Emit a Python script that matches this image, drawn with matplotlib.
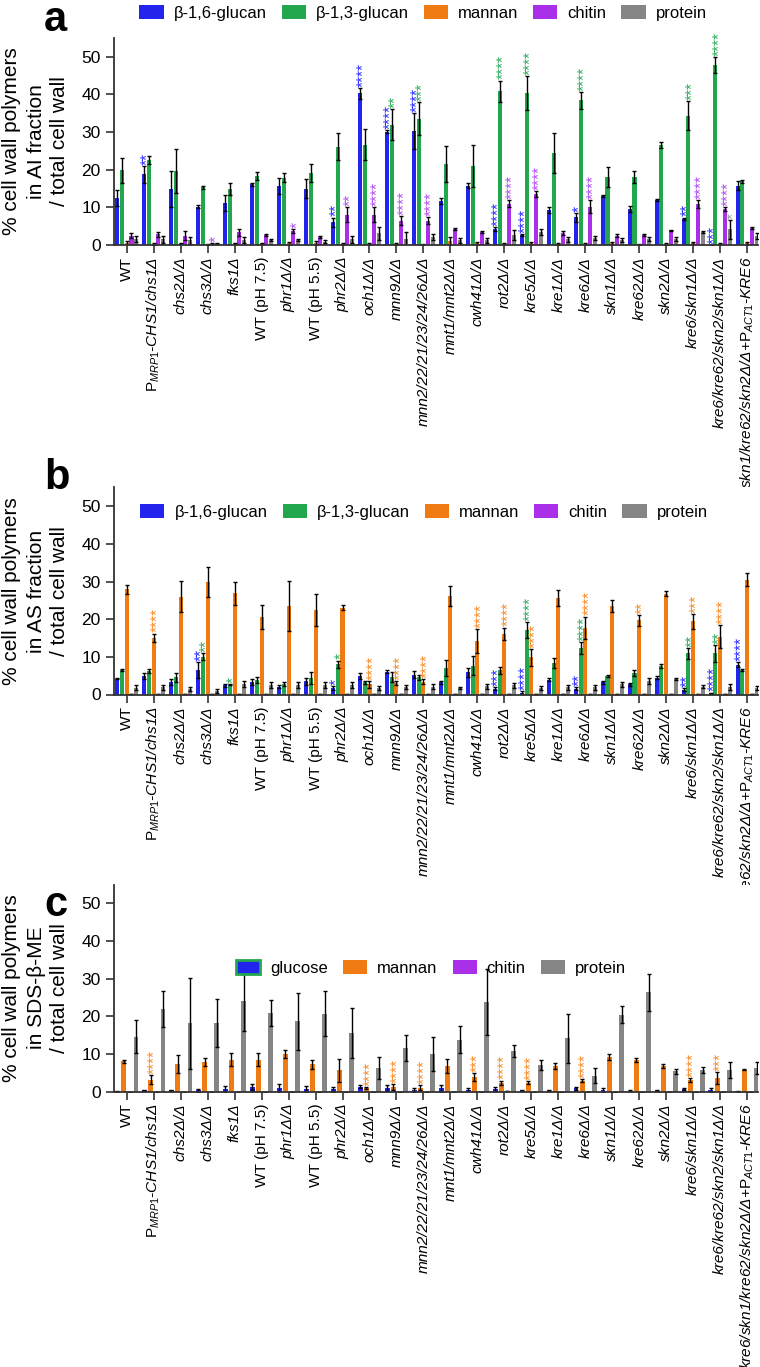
import numpy as np
import matplotlib
matplotlib.use("Agg")
import matplotlib.pyplot as plt
from matplotlib.patches import Patch

plt.rcParams['font.family'] = ['Liberation Sans', 'DejaVu Sans']
plt.rcParams['mathtext.fontset'] = 'custom'
plt.rcParams['mathtext.rm'] = 'Liberation Sans'
plt.rcParams['mathtext.it'] = 'Liberation Sans:italic'
plt.rcParams['mathtext.bf'] = 'Liberation Sans:bold'

labels = ['WT', r'$\mathrm{P}_{MRP1}$-CHS1/chs1Δ', 'chs2Δ/Δ', 'chs3Δ/Δ', 'fks1Δ',
          'WT (pH 7.5)', 'phr1Δ/Δ', 'WT (pH 5.5)', 'phr2Δ/Δ', 'och1Δ/Δ', 'mnn9Δ/Δ',
          'mnn2/22/21/23/24/26Δ/Δ', 'mnt1/mnt2Δ/Δ', 'cwh41Δ/Δ', 'rot2Δ/Δ', 'kre5Δ/Δ',
          'kre1Δ/Δ', 'kre6Δ/Δ', 'skn1Δ/Δ', 'kre62Δ/Δ', 'skn2Δ/Δ', 'kre6/skn1Δ/Δ',
          'kre6/kre62/skn2/skn1Δ/Δ', r'kre6/skn1/kre62/skn2Δ/Δ+$\mathrm{P}_{ACT1}$-KRE6']
upright = ['WT', 'WT (pH 7.5)', 'WT (pH 5.5)']

series_ab = ['β-1,6-glucan', 'β-1,3-glucan', 'mannan', 'chitin', 'protein']
series_c = ['glucose', 'mannan', 'chitin', 'protein']

# panel a: AI fraction
a_b16 = [12.5, 18.8, 14.9, 10.2, 11.2, 16.2, 15.7, 15.0, 6.0, 40.3, 30.1, 30.3, 11.7, 15.8, 4.3, 2.7, 9.3, 7.4, 13.0, 9.6, 11.9, 7.0, 0.0, 15.8]
a_b16_sd = [2.2, 2.2, 4.7, 0.4, 2.1, 0.4, 2.2, 2.5, 1.3, 1.5, 0.4, 4.7, 0.7, 0.6, 0.5, 0.3, 0.7, 1.2, 0.3, 0.8, 0.2, 0.3, 0.0, 1.2]
a_b13 = [19.8, 22.6, 19.7, 15.3, 14.9, 18.4, 17.9, 19.1, 26.1, 26.7, 32.0, 33.5, 21.5, 21.0, 40.9, 40.3, 24.4, 38.4, 18.1, 18.1, 26.5, 34.4, 47.8, 17.0]
a_b13_sd = [3.3, 1.0, 5.8, 0.3, 1.7, 1.0, 1.2, 2.3, 3.6, 4.2, 4.2, 4.4, 4.7, 5.7, 2.8, 4.5, 5.3, 2.2, 2.6, 1.6, 0.8, 3.9, 2.1, 0.4]
a_man = [0.4, 0.3, 0.4, 0.1, 0.4, 0.4, 0.4, 0.5, 0.3, 0.3, 0.3, 0.2, 1.0, 0.4, 0.3, 0.4, 0.3, 0.3, 0.4, 0.2, 0.3, 0.5, 0.3, 0.4]
a_man_sd = [0.6, 0.2, 0.2, 0.1, 0.2, 0.2, 0.3, 0.5, 0.2, 0.2, 0.2, 0.1, 1.0, 0.3, 0.3, 0.4, 0.2, 0.2, 0.4, 0.1, 0.2, 0.3, 0.2, 0.4]
a_chi = [2.5, 2.8, 2.4, 0.3, 3.4, 2.6, 3.7, 2.1, 8.0, 8.0, 6.5, 6.5, 4.3, 3.4, 11.0, 13.5, 3.2, 10.2, 2.5, 2.6, 3.9, 10.9, 9.5, 4.5]
a_chi_sd = [0.7, 0.7, 1.2, 0.1, 0.9, 0.3, 0.6, 0.3, 2.0, 2.0, 1.2, 1.0, 0.2, 0.3, 0.9, 0.8, 0.6, 1.7, 0.3, 0.3, 0.1, 1.1, 0.5, 0.3]
a_pro = [1.6, 1.5, 1.2, 0.4, 1.3, 1.3, 1.4, 0.9, 1.5, 3.1, 1.6, 2.0, 1.2, 1.2, 2.7, 3.5, 1.5, 1.9, 1.3, 1.6, 1.5, 3.5, 4.2, 2.4]
a_pro_sd = [0.8, 1.0, 0.9, 0.2, 0.8, 0.3, 0.3, 0.4, 1.0, 1.8, 1.8, 0.8, 0.7, 0.7, 1.3, 0.8, 0.7, 0.6, 0.6, 0.5, 0.5, 0.3, 2.5, 0.9]
# (category, series, stars)
a_stars = [(1, 0, '**'), (3, 3, '*'), (6, 3, '*'), (8, 0, '**'), (8, 3, '**'),
           (9, 0, '****'), (9, 3, '****'), (10, 0, '****'), (10, 1, '**'), (10, 3, '****'),
           (11, 0, '****'), (11, 1, '***'), (11, 3, '****'), (14, 0, '****'), (14, 1, '****'),
           (14, 3, '****'), (15, 0, '****'), (15, 1, '****'), (15, 3, '****'), (17, 0, '*'),
           (17, 1, '****'), (17, 3, '****'), (21, 0, '**'), (21, 1, '***'), (21, 3, '****'),
           (22, 0, '***'), (22, 1, '****'), (22, 3, '****'), (22, 4, '*')]

# panel b: AS fraction
b_b16 = [4.2, 4.9, 3.2, 6.5, 2.4, 3.3, 2.1, 3.5, 1.8, 4.8, 6.0, 5.3, 3.3, 5.9, 1.5, 0.5, 3.9, 1.5, 3.2, 2.7, 4.5, 1.2, 0.3, 7.9]
b_b16_sd = [0.2, 0.7, 0.8, 2.2, 0.3, 0.7, 0.4, 1.0, 0.5, 0.8, 0.4, 1.0, 0.4, 1.2, 0.4, 0.3, 0.4, 0.4, 0.3, 0.4, 0.3, 0.4, 0.2, 0.7]
b_b13 = [6.5, 6.2, 4.6, 10.0, 2.6, 3.9, 2.8, 4.4, 8.0, 3.3, 4.6, 4.6, 7.0, 7.6, 6.4, 17.1, 8.3, 12.4, 4.9, 5.8, 7.6, 10.9, 10.9, 6.6]
b_b13_sd = [0.3, 0.6, 1.2, 0.9, 0.2, 0.8, 0.5, 1.5, 1.0, 0.4, 1.3, 0.7, 2.1, 2.5, 1.0, 2.2, 1.3, 1.6, 0.3, 0.8, 0.5, 1.4, 2.3, 0.3]
b_man = [27.9, 15.1, 26.0, 29.8, 26.9, 20.6, 23.6, 22.5, 23.1, 2.7, 3.1, 3.4, 26.1, 14.2, 16.2, 9.9, 25.6, 17.7, 23.5, 19.7, 26.8, 19.4, 15.4, 30.5]
b_man_sd = [1.2, 1.1, 4.2, 4.0, 3.1, 3.1, 6.6, 4.2, 0.6, 0.9, 0.5, 0.6, 2.6, 3.1, 1.6, 2.2, 2.2, 3.0, 1.5, 1.5, 0.6, 1.9, 3.1, 1.7]
b_chi = [0.1, 0.1, 0.1, 0.1, 0.1, 0.1, 0.1, 0.1, 0.1, 0.1, 0.1, 0.1, 0.1, 0.1, 0.1, 0.1, 0.1, 0.1, 0.1, 0.1, 0.1, 0.1, 0.1, 0.1]
b_chi_sd = [0.0, 0.0, 0.0, 0.0, 0.0, 0.0, 0.0, 0.0, 0.0, 0.0, 0.0, 0.0, 0.0, 0.0, 0.0, 0.0, 0.0, 0.0, 0.0, 0.0, 0.0, 0.0, 0.0, 0.0]
b_pro = [1.8, 1.9, 1.5, 1.0, 2.8, 2.4, 2.4, 2.4, 2.4, 1.7, 1.9, 2.1, 1.7, 2.2, 2.4, 1.7, 1.9, 1.9, 2.7, 3.7, 4.2, 2.1, 1.9, 1.7]
b_pro_sd = [0.6, 0.7, 0.6, 0.5, 0.9, 0.8, 0.8, 0.8, 0.8, 0.6, 0.5, 0.6, 0.2, 0.7, 0.7, 0.6, 0.6, 0.6, 0.6, 0.8, 0.3, 0.5, 0.8, 0.5]
b_stars = [(1, 2, '****'), (3, 0, '**'), (3, 1, '**'), (4, 1, '*'), (8, 0, '*'), (8, 1, '*'),
           (9, 2, '****'), (10, 2, '****'), (11, 2, '****'), (13, 2, '****'), (14, 0, '***'),
           (14, 2, '****'), (15, 0, '****'), (15, 1, '****'), (15, 2, '****'), (17, 0, '**'),
           (17, 1, '****'), (17, 2, '****'), (19, 2, '**'), (21, 0, '**'), (21, 1, '**'),
           (21, 2, '***'), (22, 0, '****'), (22, 1, '**'), (22, 2, '****'), (23, 0, '****')]

# panel c: SDS-beta-ME fraction
c_glc = [0.1, 0.3, 0.3, 0.3, 0.7, 1.2, 1.0, 0.7, 0.6, 1.3, 0.9, 0.4, 0.8, 0.5, 0.7, 0.3, 0.3, 0.8, 0.4, 0.2, 0.3, 0.6, 0.4, 0.1]
c_glc_sd = [0.1, 0.2, 0.2, 0.3, 0.8, 0.8, 1.0, 0.7, 0.6, 0.5, 0.8, 0.5, 1.0, 0.4, 0.5, 0.2, 0.2, 0.5, 0.4, 0.1, 0.2, 0.2, 0.4, 0.1]
c_man = [8.0, 3.1, 7.3, 7.8, 8.5, 8.5, 9.9, 7.3, 5.6, 0.9, 1.2, 1.0, 6.8, 3.9, 2.3, 2.3, 6.8, 2.9, 9.1, 8.4, 6.8, 3.0, 3.5, 5.8]
c_man_sd = [0.3, 1.2, 2.4, 1.0, 1.6, 1.7, 1.0, 1.2, 3.0, 0.3, 0.8, 0.6, 1.8, 1.0, 0.6, 0.4, 0.8, 0.5, 0.8, 0.5, 0.5, 0.5, 1.6, 0.1]
c_chi = [0.0, 0.0, 0.0, 0.0, 0.0, 0.0, 0.0, 0.0, 0.0, 0.0, 0.0, 0.0, 0.0, 0.0, 0.1, 0.0, 0.0, 0.0, 0.0, 0.0, 0.0, 0.0, 0.0, 0.0]
c_chi_sd = [0.0, 0.0, 0.0, 0.0, 0.0, 0.0, 0.0, 0.0, 0.0, 0.0, 0.0, 0.0, 0.0, 0.0, 0.0, 0.0, 0.0, 0.0, 0.0, 0.0, 0.0, 0.0, 0.0, 0.0]
c_pro = [14.6, 21.9, 18.1, 18.3, 24.1, 20.9, 18.6, 20.7, 15.5, 6.2, 11.5, 10.0, 13.8, 23.7, 10.7, 7.0, 14.2, 4.2, 20.4, 26.4, 5.4, 5.7, 5.7, 6.2]
c_pro_sd = [4.3, 4.7, 12.1, 6.4, 8.0, 3.4, 7.5, 6.0, 6.7, 3.0, 3.5, 4.5, 3.7, 8.8, 1.6, 1.3, 6.5, 2.0, 2.3, 4.9, 0.7, 0.8, 2.2, 1.6]
c_stars = [(1, 1, '****'), (9, 1, '****'), (10, 1, '****'), (11, 1, '****'), (13, 1, '***'),
           (14, 1, '****'), (15, 1, '****'), (17, 1, '****'), (21, 1, '****'), (22, 1, '***')]

blue, green, orange, purple, gray = '#2323ee', '#22a64e', '#f07b12', '#a92fe8', '#858585'
star_ab = ['#2828ff', '#2aac5a', '#f58a24', '#b14cf2', '#a0a0a0']

fig = plt.figure(figsize=(7.6, 13.67), dpi=100)
H = 1367.0
x = np.arange(len(labels))
xlim = (-0.47, 23.4)


def panel(top_px, means, sds, colors, stars, star_cols, pitch, width, ylabel_lines):
    ax = fig.add_axes([114 / 760, 1 - (top_px + 207) / H, 644 / 760, 207 / H])
    n = len(means)
    for k in range(n):
        off = (k - (n - 1) / 2) * pitch
        ax.bar(x + off, means[k], width, color=colors[k], yerr=sds[k],
               error_kw=dict(elinewidth=1.0, capsize=1.3, capthick=1.0, ecolor='black'))
    for i, k, s in stars:
        off = (k - (n - 1) / 2) * pitch
        y = means[k][i] + sds[k][i] + 0.3
        # rotated asterisks sit left of their box centre, so nudge right
        ax.text(i + off + 0.13, y, s, rotation=90, ha='center', va='bottom',
                color=star_cols[k], fontsize=11.2, linespacing=1)
    ax.set_xlim(*xlim)
    ax.set_ylim(0, 55)
    ax.set_yticks([0, 10, 20, 30, 40, 50])
    ax.set_xticks(x)
    ax.set_xticklabels(labels, rotation=90, fontsize=11.1)
    for t in ax.get_xticklabels():
        if t.get_text() not in upright:
            t.set_fontstyle('italic')
    ax.tick_params(axis='y', labelsize=12.5, length=6, width=1.2, color='#333333')
    ax.tick_params(axis='x', length=6, width=1.2, color='#333333', pad=2.5)
    for side in ['top', 'right']:
        ax.spines[side].set_visible(False)
    for side in ['left', 'bottom']:
        ax.spines[side].set_linewidth(1.3)
        ax.spines[side].set_color('#333333')
    # y label, one text per line
    for line, xpx in zip(ylabel_lines, [12, 36, 60]):
        ax.text((xpx - 114) / 644, 0.5, line, transform=ax.transAxes, rotation=90,
                ha='center', va='center', fontsize=15)
    return ax


cols_ab = [blue, green, orange, purple, gray]
ax_a = panel(38, [a_b16, a_b13, a_man, a_chi, a_pro], [a_b16_sd, a_b13_sd, a_man_sd, a_chi_sd, a_pro_sd],
             cols_ab, a_stars, star_ab, 0.178, 0.15,
             ['% cell wall polymers', 'in AI fraction', '/ total cell wall'])
ax_b = panel(487.5, [b_b16, b_b13, b_man, b_chi, b_pro], [b_b16_sd, b_b13_sd, b_man_sd, b_chi_sd, b_pro_sd],
             cols_ab, b_stars, star_ab, 0.178, 0.15,
             ['% cell wall polymers', 'in AS fraction', '/ total cell wall'])
ax_c = panel(884.5, [c_glc, c_man, c_chi, c_pro], [c_glc_sd, c_man_sd, c_chi_sd, c_pro_sd],
             [blue, orange, purple, gray], c_stars, [star_ab[0], star_ab[2], star_ab[3], star_ab[4]],
             0.23, 0.18,
             ['% cell wall polymers', 'in SDS-β-ME', '/ total cell wall'])

leg_kw = dict(loc='center', ncol=5, frameon=False, fontsize=12, handlelength=1.45,
              handleheight=0.85, handletextpad=0.6, columnspacing=0.9, borderpad=0,
              bbox_transform=fig.transFigure)
h_ab = [Patch(facecolor=c, edgecolor='none') for c in cols_ab]
fig.legend(h_ab, series_ab, bbox_to_anchor=(423 / 760, 1 - 13 / H), **leg_kw)
fig.legend(h_ab, series_ab, bbox_to_anchor=(424 / 760, 1 - 512 / H), **leg_kw)
h_c = [Patch(facecolor=blue, edgecolor=green, linewidth=2),
       Patch(facecolor=orange, edgecolor='none'),
       Patch(facecolor=purple, edgecolor='none'),
       Patch(facecolor=gray, edgecolor='none')]
fig.legend(h_c, series_c, bbox_to_anchor=(431 / 760, 1 - 968 / H), **leg_kw)

for letter, ypx in [('a', 0), ('b', 458), ('c', 885)]:
    fig.text(44 / 760, 1 - ypx / H, letter, fontsize=30, fontweight='bold', va='top', ha='left')

fig.savefig('out.png', dpi=100)
